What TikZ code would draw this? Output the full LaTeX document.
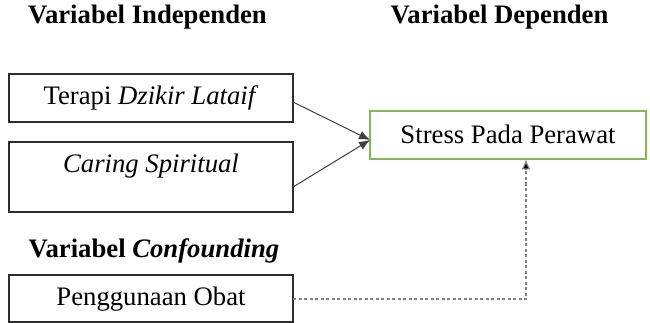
\documentclass[tikz,border=0pt]{standalone}
\usepackage{fontspec}
\setmainfont{Liberation Serif}
\usetikzlibrary{arrows.meta}
\definecolor{boxline}{RGB}{45,45,45}
\definecolor{leaf}{RGB}{130,185,85}
\definecolor{dotgray}{RGB}{130,130,130}
\begin{document}
\begin{tikzpicture}[x=1pt,y=-1pt,
  every node/.style={font=\fontsize{26.7}{30}\selectfont, inner sep=0pt, outer sep=0pt},
  varbox/.style={draw=boxline, line width=1.6pt, anchor=north west, minimum width=284pt, text height=18pt},
  head/.style={anchor=base, font=\fontsize{26.7}{30}\selectfont\bfseries},
  link/.style={draw=black!75, line width=1pt, -{Latex[length=11pt,width=9pt]}},
  dotlink/.style={draw=dotgray, line width=1.2pt, dash pattern=on 3pt off 2.5pt, -{Latex[length=10pt,width=9pt,fill=black]}}
]
\useasboundingbox (0,0) rectangle (650,323);
\fill[white] (0,0) rectangle (650,323);

\node[head] (hind) at (147.5,24) {Variabel Independen};
\node[head] (hdep) at (499.5,24) {Variabel Dependen};
\node[head] (hcon) at (154,257) {Variabel \textit{Confounding}};

\node[varbox, minimum height=48pt, text depth=5pt] (terapi) at (9,74) {Terapi \textit{Dzikir Lataif}};
\node[varbox, minimum height=70pt, text depth=26pt] (caring) at (9,142) {\textit{Caring Spiritual}};
\node[varbox, minimum height=47pt, text depth=5pt] (obat) at (9,275) {Penggunaan Obat};
\node[draw=leaf, line width=1.6pt, anchor=north west, minimum width=276pt, minimum height=48pt, text height=18pt, text depth=0pt] (stress) at (370,111) {Stress Pada Perawat};

\coordinate (tip) at (370,140);
\coordinate (dtip) at (526,159.5);
\coordinate (bend) at (526,299);

\draw[link] ([yshift=-4pt]terapi.east) -- (tip);
\draw[link] ([yshift=-10pt]caring.east) -- (tip);
\draw[dotlink] ([yshift=-0.5pt]obat.east) -- (bend) -- (dtip);
\end{tikzpicture}
\end{document}
